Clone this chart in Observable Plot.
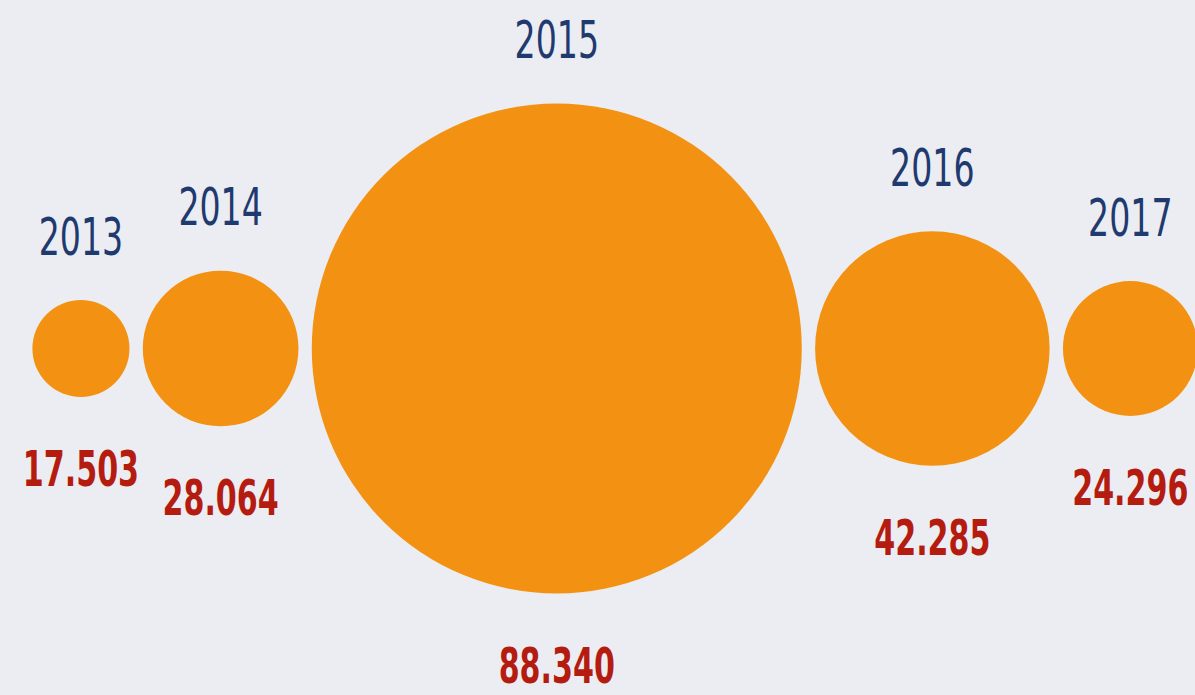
<!DOCTYPE html>
<html>
<head>
<meta charset="utf-8">
<script src="https://cdn.jsdelivr.net/npm/d3@7"></script>
<script src="https://cdn.jsdelivr.net/npm/@observablehq/plot@0.6"></script>
<style>
  html, body { margin: 0; padding: 0; background: #ECEDF3; }
  #chart svg { display: block; }
</style>
</head>
<body>
<div id="chart"></div>
<script>
const years = ["2013", "2014", "2015", "2016", "2017"];
const values = [17.503, 28.064, 88.340, 42.285, 24.296];
const valueLabels = ["17.503", "28.064", "88.340", "42.285", "24.296"];

const W = 1195, H = 695;
const maxV = d3.max(values);
const maxR = 245;                 // radius of the largest bubble in px
const k = maxR / maxV;            // px per value unit (radius ∝ value)
const gap = 4.8;                  // gap between bubbles, in value units
const startX = 11.5;              // left margin, in value units

let cursor = startX;
const data = years.map((year, i) => {
  const v = values[i];
  const cx = cursor + v;
  cursor += 2 * v + gap;
  return { year, value: v, label: valueLabels[i], cx };
});

const xDomain = [0, W / k];
const yDomain = [-348 / k, (H - 348) / k];
const font = "'DejaVu Sans Condensed', 'DejaVu Sans', sans-serif";

const chart = Plot.plot({
  width: W,
  height: H,
  margin: 0,
  style: { background: "#ECEDF3", overflow: "visible" },
  x: { domain: xDomain, range: [0, W], axis: null },
  y: { domain: yDomain, range: [0, H], axis: null },
  r: { type: "linear", domain: [0, maxV], range: [0, maxR] },
  marks: [
    Plot.dot(data, { x: "cx", y: () => 0, r: "value", fill: "#F39212", stroke: "none" }),
    Plot.text(data, {
      x: "cx", y: d => -d.value, text: "year", dy: -62,
      fill: "#1F3A6E", fontSize: 52, fontWeight: "normal",
      fontFamily: font, textAnchor: "middle", lineAnchor: "middle",
      className: "yr"
    }),
    Plot.text(data, {
      x: "cx", y: d => d.value, text: "label", dy: 73,
      fill: "#B51C10", fontSize: 50, fontWeight: "bold",
      fontFamily: font, textAnchor: "middle", lineAnchor: "middle",
      className: "val"
    })
  ]
});

// Condense the glyphs horizontally (no narrow font installed)
function condense(sel, sx) {
  chart.querySelectorAll(sel + " text").forEach(t => {
    const tr = t.getAttribute("transform") || "";
    t.setAttribute("transform", `${tr} scale(${sx},1)`);
  });
}
condense(".yr", 0.71);
condense(".val", 0.67);

document.getElementById("chart").appendChild(chart);
</script>
</body>
</html>
